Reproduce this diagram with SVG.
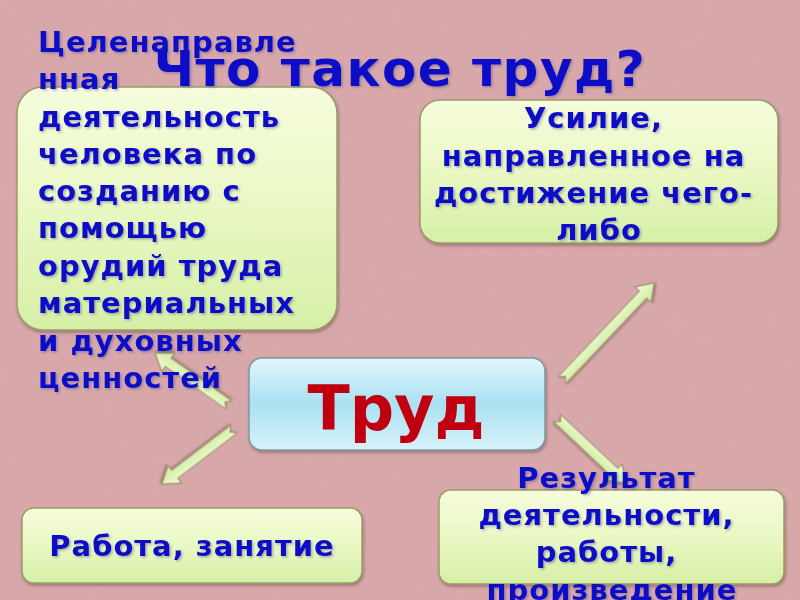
<svg xmlns="http://www.w3.org/2000/svg" width="800" height="600" viewBox="0 0 800 600">
<defs>
<style>
.t{font-family:"DejaVu Sans","Liberation Sans",sans-serif;font-weight:bold;fill:#0808c8;}
.b{font-size:29px;letter-spacing:1px;}
.box{fill:url(#gGreen);stroke:#9c9c6a;stroke-width:1.5;filter:url(#sh);}
.arr{fill:url(#gArr);stroke:#a09a70;stroke-width:1.2;filter:url(#sh2);}
</style>
<linearGradient id="gGreen" x1="0" y1="0" x2="0" y2="1">
<stop offset="0" stop-color="#f6fcdc"/>
<stop offset="0.5" stop-color="#eaf8c4"/>
<stop offset="1" stop-color="#d6efa6"/>
</linearGradient>
<linearGradient id="gBlue" x1="0" y1="0" x2="0" y2="1">
<stop offset="0" stop-color="#e2f6fc"/>
<stop offset="0.5" stop-color="#a9e1f2"/>
<stop offset="1" stop-color="#d8f2fa"/>
</linearGradient>
<linearGradient id="gArr" x1="0" y1="0" x2="0" y2="1">
<stop offset="0" stop-color="#f4fcd8"/>
<stop offset="1" stop-color="#cbe99a"/>
</linearGradient>
<filter id="sh" x="-10%" y="-10%" width="120%" height="130%">
<feDropShadow dx="1" dy="2" stdDeviation="1.5" flood-color="#604040" flood-opacity="0.5"/>
</filter>
<filter id="sh2" x="-20%" y="-20%" width="140%" height="140%">
<feDropShadow dx="1" dy="1.5" stdDeviation="1" flood-color="#604040" flood-opacity="0.5"/>
</filter>
<filter id="tsh" x="-5%" y="-10%" width="110%" height="130%">
<feDropShadow dx="1.5" dy="1.5" stdDeviation="0.8" flood-color="#505080" flood-opacity="0.45"/>
</filter>
<filter id="noise" x="0" y="0" width="100%" height="100%">
<feTurbulence type="fractalNoise" baseFrequency="0.06" numOctaves="3" seed="4"/>
<feColorMatrix type="matrix" values="0 0 0 0 0.55  0 0 0 0 0.35  0 0 0 0 0.38  0 0 0 0.35 -0.08"/>
</filter>
</defs>
<rect x="0" y="0" width="800" height="600" fill="#d9a8aa"/>
<rect x="0" y="0" width="800" height="600" filter="url(#noise)" opacity="0.6"/>

<g id="connectors">
<path class="arr" transform="translate(229,405) rotate(215.1)" d="M0,-5 L74.4,-5 L74.4,-11 L90.4,0 L74.4,11 L74.4,5 L0,5 L5,0 Z"/>
<path class="arr" transform="translate(234,429) rotate(142.6)" d="M0,-5 L74.6,-5 L74.6,-11 L90.6,0 L74.6,11 L74.6,5 L0,5 L5,0 Z"/>
<path class="arr" transform="translate(562,380) rotate(-46.5)" d="M0,-5 L117.7,-5 L117.7,-11 L133.7,0 L117.7,11 L117.7,5 L0,5 L5,0 Z"/>
<path class="arr" transform="translate(557,418) rotate(43.3)" d="M0,-5 L78.8,-5 L78.8,-11 L94.8,0 L78.8,11 L78.8,5 L0,5 L5,0 Z"/>
</g>

<g id="node-definition">
<rect class="box" x="17" y="87" width="320" height="243" rx="26"/>
<text class="t b" filter="url(#tsh)">
<tspan x="38" y="52">Целенаправле</tspan>
<tspan x="38" y="89">нная</tspan>
<tspan x="38" y="127">деятельность</tspan>
<tspan x="38" y="164">человека по</tspan>
<tspan x="38" y="201">созданию с</tspan>
<tspan x="38" y="238">помощью</tspan>
<tspan x="38" y="276">орудий труда</tspan>
<tspan x="38" y="313">материальных</tspan>
<tspan x="38" y="351">и духовных</tspan>
<tspan x="38" y="388">ценностей</tspan>
</text>
</g>

<g id="title">
<text class="t" x="400" y="86" font-size="50" letter-spacing="1.5" text-anchor="middle" filter="url(#tsh)">Что такое труд?</text>
</g>

<g id="node-effort">
<rect class="box" x="420" y="100" width="358" height="143" rx="20"/>
<text class="t b" text-anchor="middle" filter="url(#tsh)">
<tspan x="599" y="128">Усилие,</tspan>
<tspan x="599" y="166">направленное на</tspan>
<tspan x="599" y="203">достижение чего-</tspan>
<tspan x="599" y="240">либо</tspan>
</text>
</g>

<g id="node-trud">
<rect x="249" y="358" width="296" height="92" rx="13" fill="url(#gBlue)" stroke="#7c9aa2" stroke-width="1.5" filter="url(#sh)"/>
<text x="396" y="430" font-family="DejaVu Sans, Liberation Sans, sans-serif" font-weight="bold" font-size="62" fill="#c00010" text-anchor="middle">Труд</text>
</g>

<g id="node-work">
<rect class="box" x="22" y="508" width="340" height="75" rx="12"/>
<text class="t b" x="192" y="556" text-anchor="middle" filter="url(#tsh)">Работа, занятие</text>
</g>

<g id="node-result">
<rect class="box" x="439" y="490" width="345" height="94" rx="12"/>
<text class="t b" text-anchor="middle" filter="url(#tsh)">
<tspan x="612" y="488">Результат</tspan>
<tspan x="612" y="525">деятельности,</tspan>
<tspan x="612" y="562">работы,</tspan>
<tspan x="612" y="600">произведение</tspan>
</text>
</g>
</svg>
